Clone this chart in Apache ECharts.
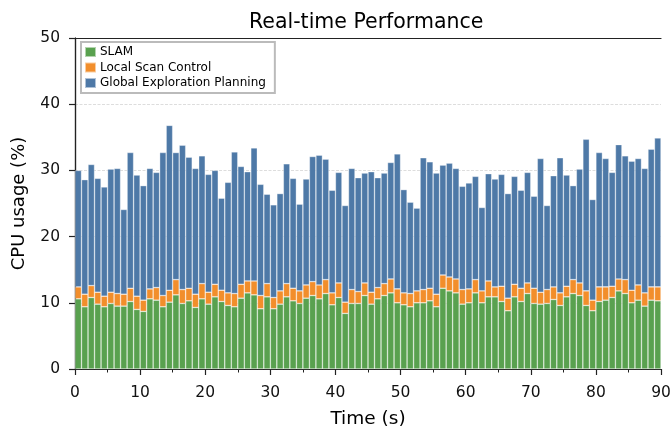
<!DOCTYPE html>
<html>
<head>
<meta charset="utf-8">
<script src="https://cdn.jsdelivr.net/npm/echarts@6/dist/echarts.min.js"></script>
<style>html,body{margin:0;padding:0;background:#fff;}#c{width:671px;height:433px;}</style>
</head>
<body>
<div id="c"></div>
<script>
// time slots (seconds), one bar per second
const timeSlots = Array.from({length: 90}, (_, i) => i);

const slam = [10.6,9.4,10.8,9.8,9.4,9.9,9.5,9.5,10.2,9.0,
  8.7,10.6,10.4,9.4,10.1,11.2,9.9,10.3,9.3,10.6,
  9.8,10.9,10.2,9.6,9.4,10.7,11.5,11.2,9.1,10.9,
  9.1,9.8,10.9,10.3,9.9,10.7,11.1,10.6,11.4,9.7,
  10.8,8.4,9.9,9.9,11.1,9.8,10.6,11.1,11.5,10.0,
  9.7,9.4,10.0,10.0,10.3,9.4,12.2,11.8,11.5,9.8,
  10.0,11.5,10.0,10.9,10.9,10.2,8.8,10.9,10.2,11.4,
  9.9,9.8,9.9,10.5,9.6,10.9,11.4,11.1,9.6,8.8,
  10.2,10.4,10.8,11.8,11.4,10.0,10.4,9.5,10.4,10.3];

const localScan = [1.8,1.9,1.8,1.8,1.6,1.7,1.9,1.8,2.0,2.0,
  1.7,1.5,1.9,1.7,1.8,2.3,2.1,1.9,2.0,2.3,
  1.8,1.9,1.7,1.9,2.0,2.1,1.8,2.1,2.0,2.0,
  1.7,2.0,2.0,1.9,1.9,2.0,2.1,2.1,2.1,1.8,
  2.2,1.7,2.1,1.8,1.9,1.8,1.7,1.8,2.1,2.1,
  1.8,2.0,1.8,2.0,1.9,1.9,2.0,2.1,2.1,2.2,
  2.1,2.0,1.8,2.4,1.5,2.3,1.9,1.9,2.0,1.6,
  2.3,1.8,2.1,1.9,1.9,1.6,2.1,1.9,2.2,1.6,
  2.2,2.0,1.7,1.8,2.1,1.9,2.3,2.0,2.0,2.1];

const globalPlan = [17.6,17.3,18.3,17.2,16.5,18.6,18.9,12.8,20.5,18.3,
  17.3,18.2,17.4,21.6,24.9,19.2,21.8,19.8,19.0,19.3,
  17.8,17.2,13.9,16.7,21.4,17.8,16.5,20.1,16.8,13.5,
  14.0,14.7,18.1,16.6,13.1,16.0,18.9,19.6,18.2,15.5,
  16.7,14.6,18.3,17.2,16.6,18.2,16.6,16.7,17.6,20.4,
  15.6,13.8,12.5,19.9,19.1,18.3,16.6,17.2,16.7,15.6,
  16.0,15.6,12.6,16.2,16.3,16.9,15.8,16.3,14.8,16.7,
  13.9,20.2,12.7,16.8,20.4,16.8,14.2,17.2,22.9,15.2,
  20.3,19.4,17.2,20.3,18.7,19.5,19.1,18.8,20.8,22.5];

const seriesNames = ['SLAM', 'Local Scan Control', 'Global Exploration Planning'];
const seriesColors = ['#59a14f', '#f28e2b', '#4e79a7'];
const seriesData = [slam, localScan, globalPlan];

const FONT = 'DejaVu Sans';
const spine = {show: true, lineStyle: {color: '#222', width: 1.2}};

const chart = echarts.init(document.getElementById('c'), null, {renderer: 'canvas'});
chart.setOption({
  animation: false,
  backgroundColor: '#fff',
  textStyle: {fontFamily: FONT},
  title: {
    text: 'Real-time Performance',
    left: 244, top: 7,
    textStyle: {fontFamily: FONT, fontSize: 20.5, fontWeight: 'normal', color: '#000'}
  },
  legend: {
    orient: 'vertical',
    left: 81, top: 42,
    padding: [4, 9, 4, 3],
    itemGap: 3.5,
    itemWidth: 11, itemHeight: 10,
    icon: 'rect',
    borderColor: '#bbb', borderWidth: 2, borderRadius: 0,
    backgroundColor: '#fff',
    textStyle: {fontFamily: FONT, fontSize: 12, color: '#000', padding: [0,0,0,-1]},
    data: seriesNames
  },
  grid: {left: 75, right: 10, top: 38, bottom: 64, containLabel: false, outerBoundsMode: 'none'},
  xAxis: [
    {
      type: 'category', data: timeSlots, boundaryGap: true,
      axisLine: {show: false}, axisTick: {show: false}, axisLabel: {show: false},
      splitLine: {show: false}
    },
    {
      type: 'value', min: 0, max: 90, interval: 10, position: 'bottom',
      axisLine: spine,
      axisTick: {show: true, length: 6, lineStyle: {color: '#222', width: 1.2}},
      minorTick: {show: true, splitNumber: 2, length: 3.5, lineStyle: {color: '#222', width: 1}},
      axisLabel: {fontFamily: FONT, fontSize: 15.5, color: '#111', margin: 16},
      splitLine: {show: false},
      name: 'Time (s)', nameLocation: 'middle', nameGap: 41,
      nameTextStyle: {fontFamily: FONT, fontSize: 18.5, color: '#000'}
    },
    {
      type: 'value', min: 0, max: 90, position: 'top',
      axisLine: spine, axisTick: {show: false}, axisLabel: {show: false}, splitLine: {show: false}
    }
  ],
  yAxis: [
    {
      type: 'value', min: 0, max: 50, interval: 10, position: 'left',
      axisLine: spine,
      axisTick: {show: true, length: 6, lineStyle: {color: '#222', width: 1.2}},
      axisLabel: {fontFamily: FONT, fontSize: 15.5, color: '#111', margin: 15},
      splitLine: {show: true, lineStyle: {color: '#d4d4d4', width: 0.8, type: [3, 1.5]}},
      name: 'CPU usage (%)', nameLocation: 'middle', nameGap: 47,
      nameTextStyle: {fontFamily: FONT, fontSize: 18, color: '#000'}
    },
    {
      type: 'value', min: 0, max: 50, position: 'right',
      axisLine: spine, axisTick: {show: false}, axisLabel: {show: false}, splitLine: {show: false}
    }
  ],
  series: seriesNames.map((name, k) => ({
    name: name,
    type: 'bar',
    stack: 'cpu',
    xAxisIndex: 0, yAxisIndex: 0,
    barWidth: '100%',
    barCategoryGap: 0,
    itemStyle: {color: seriesColors[k], borderColor: 'rgba(255,255,255,0.55)', borderWidth: 0.6},
    emphasis: {disabled: true},
    data: seriesData[k]
  }))
});
</script>
</body>
</html>
